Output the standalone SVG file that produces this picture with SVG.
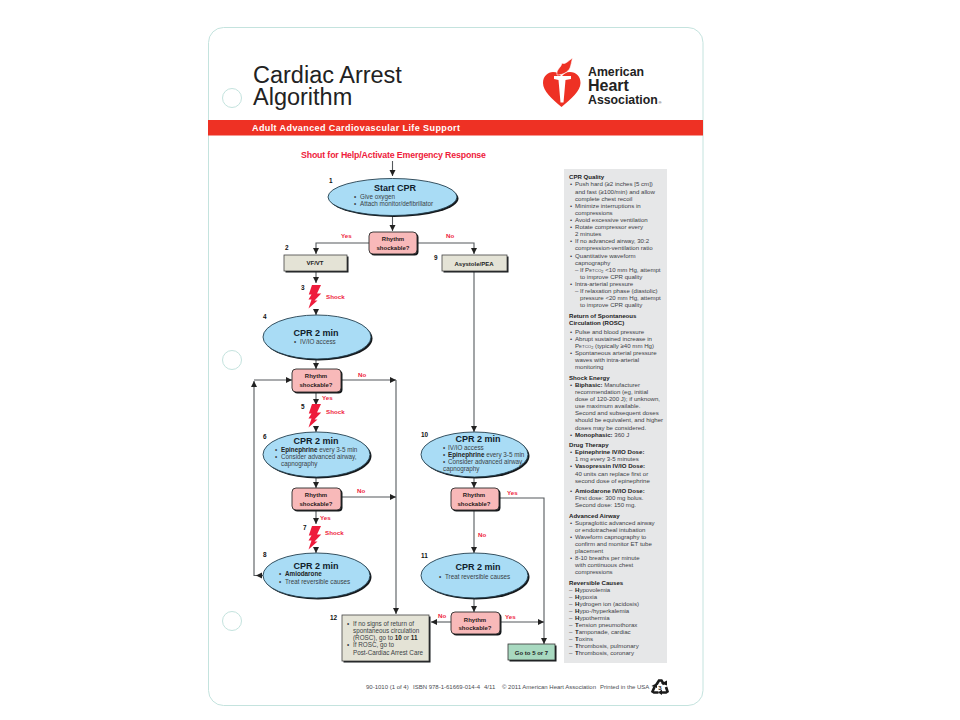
<svg xmlns="http://www.w3.org/2000/svg" xmlns:xlink="http://www.w3.org/1999/xlink" width="960" height="720" viewBox="0 0 960 720">
<style>
text{font-family:"Liberation Sans",Arial,sans-serif;fill:#3a3f45}
.b{font-weight:bold}
.t{font-size:9px;font-weight:bold;fill:#10202c;text-anchor:middle}
.s{font-size:6.3px}
.d{font-size:6.1px;fill:#3d4146}
.h{font-size:6.1px;font-weight:bold;fill:#222}
.k{font-weight:bold;fill:#222}
.n{font-size:6.4px;font-weight:bold;fill:#111}
.r{font-size:6px;font-weight:bold;fill:#2a1a1a;text-anchor:middle}
.l{font-size:6.2px;font-weight:bold;fill:#ee1c3c}
.bx{font-size:6px;font-weight:bold;fill:#222;text-anchor:middle}
.f{font-size:6px;fill:#4a4d52}
.ell{fill:#a9dcf5;stroke:#24404f;stroke-width:.9}
.sh{fill:#15181b}
.rb{fill:#f8b9b9;stroke:#2a2a2a;stroke-width:.9}
.gb{fill:#e4e3d6;stroke:#444;stroke-width:.8}
.con path{fill:none;stroke:#55595d;stroke-width:1.1}
</style>
<defs>
<marker id="a" markerUnits="userSpaceOnUse" markerWidth="7" markerHeight="7" refX="6" refY="3.5" orient="auto"><path d="M0 .5L6 3.5L0 6.5Z" fill="#222"/></marker>
<path id="bolt" d="M4 0H13L9 8.5H13.2L6.5 15.5H9.5L0.5 23.5L3.5 14.5H0.5L3.5 9.5H0.8Z" fill="#ee1c3c"/>
</defs>
<rect width="960" height="720" fill="#fff"/>
<g id="card">
<rect x="208.500" y="27.500" width="494.500" height="678" rx="15" fill="#fff" stroke="#c4e3de" stroke-width="1"/>
<circle cx="232" cy="98" r="9.500" fill="#fff" stroke="#c4e3de" stroke-width="1"/>
<circle cx="232" cy="360" r="9.500" fill="#fff" stroke="#c4e3de" stroke-width="1"/>
<circle cx="232" cy="621" r="9.500" fill="#fff" stroke="#c4e3de" stroke-width="1"/>
</g>
<g id="header">
<text font-size="23.500" style="fill:#222"><tspan x="253" y="83">Cardiac Arrest</tspan><tspan x="253" y="105">Algorithm</tspan></text>
<rect x="208" y="120" width="495" height="15.500" fill="#ee3124"/>
<text x="252" y="131" font-size="9" class="b" style="fill:#fff" textLength="208">Adult Advanced Cardiovascular Life Support</text>
<text x="301" y="158" font-size="8.800" class="b" style="fill:#ee1c3c" textLength="185">Shout for Help/Activate Emergency Response</text>
</g>
<g id="logo">
<path d="M561.500 107C552 99 543 91 543 83C543 76 548 72 553 72C557 72 560 74 561.500 77C563 74 566 72 570 72C576 72 580.500 76 580.500 83C580.500 91 571 99 561.500 107Z" fill="#ee3124"/>
<path d="M557 75C556 69 561 68 562 63C565 65 568 61 572.500 58C571.500 62 571 65 570 68C568 72 563 75 557 75Z" fill="#ee3124" stroke="#fff" stroke-width=".6"/>
<path d="M554 76H571V79L565.500 80L563.500 102.500H560.500L558.500 80L554 79Z" fill="#fff"/>
<text x="588" y="76" font-size="12.300" class="b" style="fill:#222">American</text>
<text x="588" y="91" font-size="16" class="b" style="fill:#222">Heart</text>
<text x="588" y="104" font-size="12.300" class="b" style="fill:#222">Association</text>
<text x="658.500" y="104" font-size="4" style="fill:#222">®</text>
</g>
<g id="connectors" class="con">
<path d="M392.500 161V176" marker-end="url(#a)"/>
<path d="M392.500 216V231" marker-end="url(#a)"/>
<path d="M369 243H316V254" marker-end="url(#a)"/>
<path d="M417 243H474V254" marker-end="url(#a)"/>
<path d="M316 272V283" marker-end="url(#a)"/>
<path d="M316 309V315" marker-end="url(#a)"/>
<path d="M316 360V369" marker-end="url(#a)"/>
<path d="M341 380H396" marker-end="url(#a)"/>
<path d="M396 380V614" marker-end="url(#a)"/>
<path d="M316 392V405" marker-end="url(#a)"/>
<path d="M316 428V432" marker-end="url(#a)"/>
<path d="M316 478V488" marker-end="url(#a)"/>
<path d="M341 497H396" marker-end="url(#a)"/>
<path d="M316 510V524" marker-end="url(#a)"/>
<path d="M316 549V553" marker-end="url(#a)"/>
<path d="M263 575.500H254V381" marker-end="url(#a)"/>
<path d="M263 575.500H256" marker-end="url(#a)"/>
<path d="M254 380H292" marker-end="url(#a)"/>
<path d="M474 272V432" marker-end="url(#a)"/>
<path d="M474 478V488" marker-end="url(#a)"/>
<path d="M474 510V553" marker-end="url(#a)"/>
<path d="M474 599V612" marker-end="url(#a)"/>
<path d="M499 498H544V644" marker-end="url(#a)"/>
<path d="M451 622H431" marker-end="url(#a)"/>
<path d="M500 622H544" marker-end="url(#a)"/>
</g>
<g id="node1">
<ellipse class="sh" cx="394" cy="198.500" rx="64.500" ry="18.500"/><ellipse class="ell" cx="392.500" cy="197" rx="64.500" ry="18.500"/>
<text class="n" x="329" y="183">1</text>
<text class="t" x="395" y="191">Start CPR</text>
<text class="s" x="354" y="199">•</text><text class="s" x="360" y="199">Give oxygen</text>
<text class="s" x="354" y="206">•</text><text class="s" x="360" y="206">Attach monitor/defibrillator</text>
</g>
<g id="decision1">
<rect class="sh" x="370.500" y="233.500" width="48" height="22" rx="4"/><rect class="rb" x="369" y="232" width="48" height="22" rx="4"/>
<text class="r" x="393" y="241">Rhythm</text><text class="r" x="393" y="250">shockable?</text>
<text class="l" x="341" y="238">Yes</text><text class="l" x="446" y="238">No</text>
</g>
<g id="node2">
<rect class="sh" x="285.500" y="256.500" width="63" height="16"/><rect class="gb" x="284" y="255" width="63" height="16"/>
<text class="n" x="285" y="250">2</text>
<text class="bx" x="315" y="265">VF/VT</text>
</g>
<g id="node9">
<rect class="sh" x="443.500" y="256.500" width="65" height="16"/><rect class="gb" x="442" y="255" width="65" height="16"/>
<text class="n" x="434" y="260">9</text>
<text class="bx" x="474" y="266">Asystole/PEA</text>
</g>
<g id="node3">
<use xlink:href="#bolt" href="#bolt" x="308" y="285"/>
<text class="n" x="301" y="290">3</text>
<text class="l" x="326" y="298.500">Shock</text>
</g>
<g id="node4">
<ellipse class="sh" cx="318.500" cy="338.500" rx="54" ry="22"/><ellipse class="ell" cx="317" cy="337" rx="54" ry="22"/>
<text class="n" x="263" y="319">4</text>
<text class="t" x="316" y="336">CPR 2 min</text>
<text class="s" x="294" y="343.500">•</text><text class="s" x="300" y="343.500">IV/IO access</text>
</g>
<g id="decision2">
<rect class="sh" x="293.500" y="370.500" width="49" height="23" rx="4"/><rect class="rb" x="292" y="369" width="49" height="23" rx="4"/>
<text class="r" x="316" y="378">Rhythm</text><text class="r" x="316" y="386.500">shockable?</text>
<text class="l" x="358" y="377">No</text><text class="l" x="322" y="400">Yes</text>
</g>
<g id="node5">
<use xlink:href="#bolt" href="#bolt" x="308" y="404"/>
<text class="n" x="301" y="409">5</text>
<text class="l" x="326" y="413.500">Shock</text>
</g>
<g id="node6">
<ellipse class="sh" cx="318" cy="456" rx="53.500" ry="22.500"/><ellipse class="ell" cx="316.500" cy="454.500" rx="53.500" ry="22.500"/>
<text class="n" x="263" y="439">6</text>
<text class="t" x="316" y="444">CPR 2 min</text>
<text class="s" x="275" y="451.500">•</text><text class="s" x="281" y="451.500"><tspan class="k">Epinephrine</tspan> every 3-5 min</text>
<text class="s" x="275" y="458.500">•</text><text class="s" x="281" y="458.500">Consider advanced airway,</text>
<text class="s" x="281" y="465.500">capnography</text>
</g>
<g id="decision3">
<rect class="sh" x="293.500" y="489.500" width="49" height="22" rx="4"/><rect class="rb" x="292" y="488" width="49" height="22" rx="4"/>
<text class="r" x="316" y="497">Rhythm</text><text class="r" x="316" y="505.500">shockable?</text>
<text class="l" x="357" y="493">No</text><text class="l" x="320" y="520">Yes</text>
</g>
<g id="node7">
<use xlink:href="#bolt" href="#bolt" x="308" y="526"/>
<text class="n" x="303" y="530">7</text>
<text class="l" x="325" y="535">Shock</text>
</g>
<g id="node8">
<ellipse class="sh" cx="318" cy="577" rx="53.500" ry="22.500"/><ellipse class="ell" cx="316.500" cy="575.500" rx="53.500" ry="22.500"/>
<text class="n" x="263" y="557">8</text>
<text class="t" x="316" y="569">CPR 2 min</text>
<text class="s" x="279" y="576">•</text><text class="s k" x="285" y="576">Amiodarone</text>
<text class="s" x="279" y="583.500">•</text><text class="s" x="285" y="583.500">Treat reversible causes</text>
</g>
<g id="node10">
<ellipse class="sh" cx="476" cy="456" rx="53.500" ry="22.500"/><ellipse class="ell" cx="474.500" cy="454.500" rx="53.500" ry="22.500"/>
<text class="n" x="421" y="437">10</text>
<text class="t" x="478" y="442">CPR 2 min</text>
<text class="s" x="443" y="449.500">•</text><text class="s" x="448" y="449.500">IV/IO access</text>
<text class="s" x="443" y="456.500">•</text><text class="s" x="448" y="456.500"><tspan class="k">Epinephrine</tspan> every 3-5 min</text>
<text class="s" x="443" y="463.500">•</text><text class="s" x="448" y="463.500">Consider advanced airway,</text>
<text class="s" x="443" y="471">capnography</text>
</g>
<g id="decision4">
<rect class="sh" x="452.500" y="489.500" width="48" height="22" rx="4"/><rect class="rb" x="451" y="488" width="48" height="22" rx="4"/>
<text class="r" x="474" y="497">Rhythm</text><text class="r" x="474" y="505.500">shockable?</text>
<text class="l" x="507" y="494.500">Yes</text><text class="l" x="478" y="536.500">No</text>
</g>
<g id="node11">
<ellipse class="sh" cx="476" cy="577" rx="53.500" ry="22.500"/><ellipse class="ell" cx="474.500" cy="575.500" rx="53.500" ry="22.500"/>
<text class="n" x="421" y="558">11</text>
<text class="t" x="478" y="570">CPR 2 min</text>
<text class="s" x="439" y="578.500">•</text><text class="s" x="445" y="578.500">Treat reversible causes</text>
</g>
<g id="decision5">
<rect class="sh" x="452.500" y="613.500" width="49" height="22" rx="4"/><rect class="rb" x="451" y="612" width="49" height="22" rx="4"/>
<text class="r" x="475" y="621.500">Rhythm</text><text class="r" x="475" y="629.500">shockable?</text>
<text class="l" x="438" y="618">No</text><text class="l" x="505" y="619">Yes</text>
</g>
<g id="node12">
<rect class="sh" x="343.500" y="616.500" width="87" height="46"/><rect class="gb" x="342" y="615" width="87" height="46"/>
<text class="n" x="330" y="620">12</text>
<text class="s" x="347" y="625.500">•</text><text class="s" x="353" y="625.500">If no signs of return of</text>
<text class="s" x="353" y="632.500">spontaneous circulation</text>
<text class="s" x="353" y="640">(ROSC), go to <tspan class="k">10</tspan> or <tspan class="k">11</tspan></text>
<text class="s" x="347" y="647">•</text><text class="s" x="353" y="647">If ROSC, go to</text>
<text class="s" x="353" y="654.500">Post-Cardiac Arrest Care</text>
</g>
<g id="goto">
<rect class="sh" x="509.500" y="645.500" width="47" height="16"/><rect x="508" y="644" width="47" height="16" fill="#a8d9c0" stroke="#333" stroke-width=".8"/>
<text class="bx" x="531.500" y="654.500">Go to 5 or 7</text>
</g>
<g id="sidebar">
<rect x="564" y="169" width="103" height="494" fill="#e6e7e8"/>
<text class="h" x="569" y="179.300">CPR Quality</text>
<g class="d">
<text class="d" x="570" y="186.400">•</text><text class="d" x="575" y="186.400">Push hard (≥2 inches [5 cm])</text>
<text class="d" x="575" y="193.500">and fast (≥100/min) and allow</text>
<text class="d" x="575" y="200.600">complete chest recoil</text>
<text class="d" x="570" y="207.700">•</text><text class="d" x="575" y="207.700">Minimize interruptions in</text>
<text class="d" x="575" y="214.800">compressions</text>
<text class="d" x="570" y="222">•</text><text class="d" x="575" y="222">Avoid excessive ventilation</text>
<text class="d" x="570" y="229.100">•</text><text class="d" x="575" y="229.100">Rotate compressor every</text>
<text class="d" x="575" y="236.200">2 minutes</text>
<text class="d" x="570" y="243.300">•</text><text class="d" x="575" y="243.300">If no advanced airway, 30:2</text>
<text class="d" x="575" y="250.400">compression-ventilation ratio</text>
<text class="d" x="570" y="257.500">•</text><text class="d" x="575" y="257.500">Quantitative waveform</text>
<text class="d" x="575" y="264.600">capnography</text>
<text class="d" x="575" y="271.700">–</text><text class="d" x="580" y="271.700">If P<tspan font-size="4.400">ETCO</tspan><tspan font-size="3.800" dy="1">2</tspan><tspan dy="-1"> &lt;10 mm Hg, attempt</tspan></text>
<text class="d" x="580" y="278.800">to improve CPR quality</text>
<text class="d" x="570" y="286">•</text><text class="d" x="575" y="286">Intra-arterial pressure</text>
<text class="d" x="575" y="293.100">–</text><text class="d" x="580" y="293.100">If relaxation phase (diastolic)</text>
<text class="d" x="580" y="300.200">pressure &lt;20 mm Hg, attempt</text>
<text class="d" x="580" y="307.300">to improve CPR quality</text>
</g>
<text class="h" x="569" y="317.500">Return of Spontaneous</text>
<text class="h" x="569" y="324.500">Circulation (ROSC)</text>
<text class="d" x="570" y="333.500">•</text><text class="d" x="575" y="333.500">Pulse and blood pressure</text>
<text class="d" x="570" y="340.800">•</text><text class="d" x="575" y="340.800">Abrupt sustained increase in</text>
<text class="d" x="575" y="348">P<tspan font-size="4.400">ETCO</tspan><tspan font-size="3.800" dy="1">2</tspan><tspan dy="-1"> (typically ≥40 mm Hg)</tspan></text>
<text class="d" x="570" y="355.200">•</text><text class="d" x="575" y="355.200">Spontaneous arterial pressure</text>
<text class="d" x="575" y="362.200">waves with intra-arterial</text>
<text class="d" x="575" y="369.300">monitoring</text>
<text class="h" x="569" y="379.700">Shock Energy</text>
<text class="d" x="570" y="386.700">•</text><text class="d" x="575" y="386.700"><tspan class="k">Biphasic:</tspan> Manufacturer</text>
<text class="d" x="575" y="393.900">recommendation (eg, initial</text>
<text class="d" x="575" y="401">dose of 120-200 J); if unknown,</text>
<text class="d" x="575" y="408.100">use maximum available.</text>
<text class="d" x="575" y="415.200">Second and subsequent doses</text>
<text class="d" x="575" y="422.300">should be equivalent, and higher</text>
<text class="d" x="575" y="429.500">doses may be considered.</text>
<text class="d" x="570" y="436.600">•</text><text class="d" x="575" y="436.600"><tspan class="k">Monophasic:</tspan> 360 J</text>
<text class="h" x="569" y="447.300">Drug Therapy</text>
<text class="d" x="570" y="454.300">•</text><text class="d k" x="575" y="454.300">Epinephrine IV/IO Dose:</text>
<text class="d" x="575" y="461.300">1 mg every 3-5 minutes</text>
<text class="d" x="570" y="468.300">•</text><text class="d k" x="575" y="468.300">Vasopressin IV/IO Dose:</text>
<text class="d" x="575" y="475.600">40 units can replace first or</text>
<text class="d" x="575" y="482.700">second dose of epinephrine</text>
<text class="d" x="570" y="493.300">•</text><text class="d k" x="575" y="493.300">Amiodarone IV/IO Dose:</text>
<text class="d" x="575" y="500.200">First dose: 300 mg bolus.</text>
<text class="d" x="575" y="507.300">Second dose: 150 mg.</text>
<text class="h" x="569" y="518">Advanced Airway</text>
<text class="d" x="570" y="524.900">•</text><text class="d" x="575" y="524.900">Supraglottic advanced airway</text>
<text class="d" x="575" y="531.900">or endotracheal intubation</text>
<text class="d" x="570" y="538.900">•</text><text class="d" x="575" y="538.900">Waveform capnography to</text>
<text class="d" x="575" y="546">confirm and monitor ET tube</text>
<text class="d" x="575" y="553">placement</text>
<text class="d" x="570" y="560">•</text><text class="d" x="575" y="560">8-10 breaths per minute</text>
<text class="d" x="575" y="567.300">with continuous chest</text>
<text class="d" x="575" y="574.300">compressions</text>
<text class="h" x="569" y="585">Reversible Causes</text>
<text class="d" x="569" y="592.300">–</text><text class="d" x="575" y="592.300"><tspan class="k">H</tspan>ypovolemia</text>
<text class="d" x="569" y="599.200">–</text><text class="d" x="575" y="599.200"><tspan class="k">H</tspan>ypoxia</text>
<text class="d" x="569" y="606.200">–</text><text class="d" x="575" y="606.200"><tspan class="k">H</tspan>ydrogen ion (acidosis)</text>
<text class="d" x="569" y="613.300">–</text><text class="d" x="575" y="613.300"><tspan class="k">H</tspan>ypo-/hyperkalemia</text>
<text class="d" x="569" y="620.300">–</text><text class="d" x="575" y="620.300"><tspan class="k">H</tspan>ypothermia</text>
<text class="d" x="569" y="627.300">–</text><text class="d" x="575" y="627.300"><tspan class="k">T</tspan>ension pneumothorax</text>
<text class="d" x="569" y="634.300">–</text><text class="d" x="575" y="634.300"><tspan class="k">T</tspan>amponade, cardiac</text>
<text class="d" x="569" y="641.300">–</text><text class="d" x="575" y="641.300"><tspan class="k">T</tspan>oxins</text>
<text class="d" x="569" y="648.300">–</text><text class="d" x="575" y="648.300"><tspan class="k">T</tspan>hrombosis, pulmonary</text>
<text class="d" x="569" y="655.300">–</text><text class="d" x="575" y="655.300"><tspan class="k">T</tspan>hrombosis, coronary</text>
</g>
<g id="footer">
<text class="f" x="366" y="688.500">90-1010 (1 of 4)</text>
<text class="f" x="413" y="688.500">ISBN 978-1-61669-014-4</text>
<text class="f" x="484" y="688.500">4/11</text>
<text class="f" x="502" y="688.500">© 2011 American Heart Association</text>
<text class="f" x="600" y="688.500">Printed in the USA</text>
<g fill="none" stroke="#1a1a1a" stroke-width="2.600"><path d="M656.500 684.500L659 680.500H661.500L664 684.500"/><path d="M666 687L667.500 691.500L666 692.500H661"/><path d="M658.500 692.500H654L652.500 691.500L654.500 687"/></g>
<g fill="#1a1a1a"><path d="M661 683.500L667 685.500L667 680.500Z"/><path d="M662 695L662 689.500L658 692.500Z"/><path d="M651.500 686L657 688L657 683Z"/></g>
<text x="660" y="689.500" font-size="6" class="b" text-anchor="middle" style="fill:#1a1a1a">3</text>
</g>
</svg>
